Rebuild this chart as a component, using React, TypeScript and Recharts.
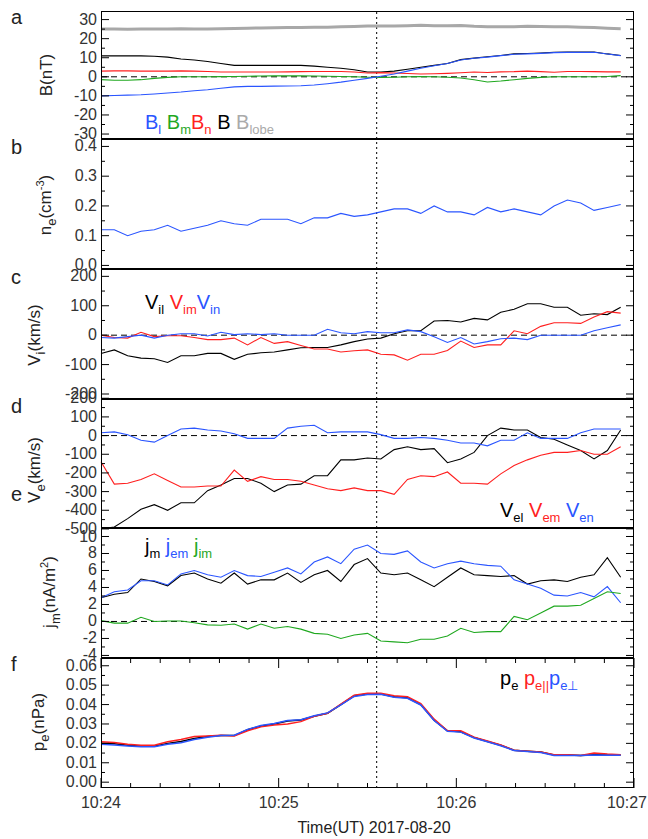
import React from 'react'
import { LineChart, Line, XAxis, YAxis, ReferenceLine } from 'recharts'

// time in seconds after 10:24:00, ~4.5 s cadence
const T = Array.from({ length: 40 }, (_, i) => i * 4.5)
const X_TICKS = [0, 10, 20, 30, 40, 50, 60, 70, 80, 90, 100, 110, 120, 130, 140, 150, 160, 170, 180]
const X_LABELS: Record<number, string> = { 0: '10:24', 60: '10:25', 120: '10:26', 180: '10:27' }
const T_MARK = 93.1

const bl = [-10, -9.8, -9.6, -9.4, -9, -8.5, -8, -7.3, -6.8, -6, -5.3, -5, -5, -4.9, -4.8, -4.7, -4.3, -3.6, -2.8, -1.8, -0.8, 0.3, 1.5, 3, 4.5, 5.8, 7, 8.8, 9.7, 10.3, 11.1, 11.8, 12, 12.3, 12.7, 12.8, 12.8, 12.9, 12, 11.1]
const bm = [-1.5, -1.8, -1.8, -1.5, -0.8, -0.3, 0, 0, 0, 0.1, 0.2, 0.3, 0.4, 0.5, 0.5, 0.5, 0.4, 0.3, 0.2, 0, -0.2, -0.3, -0.2, 0, 0.1, 0, -0.2, -0.6, -1.5, -2.7, -2.2, -1.5, -0.8, -0.3, 0, 0, 0, 0, 0.2, 0.6]
const bn = [3, 3.1, 3.1, 3, 3, 3, 3.1, 3, 2.8, 2.5, 2.5, 2.5, 2.5, 2.5, 2.6, 2.7, 2.8, 2.8, 2.8, 2.5, 2, 2.2, 2, 1.7, 1.5, 1.6, 1.8, 2.1, 2.5, 2.3, 2.6, 2.7, 3, 2.7, 2.4, 2.8, 2.8, 2.7, 2.6, 2.6]
const bt = [11, 11, 11, 11, 10.8, 10.3, 9.3, 8.8, 8, 7, 6, 6, 6, 6, 6, 6, 5.6, 5, 4.5, 3.7, 2.5, 2.5, 3, 4, 5, 6, 7, 9, 9.8, 10.5, 11.2, 12, 12.2, 12.5, 12.8, 13, 13, 13, 12, 11.2]
const blobe = [25, 25.1, 24.9, 25, 25, 25.1, 25.2, 25.1, 25, 25.2, 25.3, 25.5, 25.6, 25.7, 25.8, 25.9, 26, 26, 26.2, 26.4, 26.6, 26.6, 26.6, 26.8, 27, 26.8, 26.8, 26.9, 26.5, 26.3, 26.2, 26.3, 26.5, 26.4, 26.3, 26.2, 26, 25.8, 25.5, 25.2]

const ne = [0.12, 0.12, 0.10, 0.115, 0.12, 0.135, 0.115, 0.125, 0.135, 0.15, 0.14, 0.135, 0.155, 0.155, 0.155, 0.14, 0.16, 0.16, 0.175, 0.165, 0.17, 0.18, 0.19, 0.19, 0.175, 0.2, 0.18, 0.18, 0.17, 0.195, 0.18, 0.19, 0.18, 0.17, 0.2, 0.22, 0.21, 0.185, 0.195, 0.205]

const vil = [-62, -50, -70, -78, -80, -93, -70, -70, -62, -62, -82, -65, -60, -57, -50, -43, -42, -42, -33, -22, -13, -10, 5, 15, 15, 48, 50, 45, 57, 52, 78, 88, 107, 107, 95, 95, 68, 73, 70, 95]
const vim = [0, -8, -10, 10, -5, -2, -2, -8, -15, -15, -10, -33, -8, -28, -22, -35, -47, -47, -57, -53, -50, -65, -67, -85, -65, -65, -52, -20, -42, -33, -33, 15, 5, 30, 42, 42, 40, 62, 80, 75]
const vin = [-8, -10, -5, 0, -10, 0, 5, 5, -3, 10, 2, 5, 2, 5, 0, 0, 0, 20, 8, 5, 12, 8, 8, 18, 12, -5, -25, -8, -30, -22, -12, -10, -15, 0, 0, 0, 0, 15, 25, 35]

const vel = [-500, -490, -445, -395, -370, -400, -360, -360, -295, -265, -230, -230, -255, -300, -265, -260, -215, -215, -130, -130, -120, -125, -75, -60, -75, -70, -145, -125, -90, 0, 40, 30, 30, -10, -20, -50, -80, -125, -80, 30]
const vem = [-140, -260, -255, -235, -205, -240, -275, -275, -270, -270, -185, -245, -220, -235, -235, -245, -265, -285, -295, -280, -295, -295, -315, -235, -215, -220, -195, -255, -255, -260, -205, -160, -130, -105, -90, -90, -80, -100, -100, -60]
const ven = [15, 20, 5, -25, -35, 0, 35, 40, 30, 25, 10, -15, -15, -15, 40, 50, 55, 15, 20, 20, 20, 5, -15, -15, -10, -15, -25, -40, -40, -55, -25, -25, 15, -15, -15, -15, 15, 35, 35, 35]

const jm = [2.8, 3.2, 3.4, 5.0, 4.7, 4.2, 5.4, 5.7, 5.0, 4.5, 5.7, 4.4, 4.9, 4.9, 5.7, 4.6, 5.5, 6.0, 4.7, 6.7, 7.4, 5.7, 5.5, 5.7, 4.9, 4.1, 5.2, 6.3, 5.5, 5.4, 5.3, 5.4, 4.4, 4.8, 4.9, 4.7, 5.2, 5.5, 7.5, 5.2]
const jem = [2.8, 3.5, 3.7, 4.8, 4.8, 4.3, 5.6, 6.0, 5.5, 5.2, 6.0, 5.4, 5.3, 5.8, 6.3, 5.6, 7.0, 7.6, 6.8, 8.5, 9.0, 8.0, 7.9, 8.3, 7.0, 6.3, 6.8, 7.1, 6.8, 6.6, 6.5, 4.9, 4.4, 3.9, 3.1, 3.0, 3.4, 2.9, 4.1, 2.2]
const jim = [0.1, -0.2, -0.2, 0.5, 0, 0.05, 0.05, -0.15, -0.4, -0.45, -0.3, -0.9, -0.3, -0.8, -0.6, -0.9, -1.4, -1.5, -2.0, -1.6, -1.4, -2.3, -2.4, -2.5, -2.1, -2.1, -1.7, -0.8, -1.3, -1.2, -1.2, 0.6, 0.2, 1.0, 1.8, 1.8, 1.9, 2.7, 3.5, 3.3]

const pe = [0.020, 0.0198, 0.019, 0.0185, 0.0185, 0.020, 0.021, 0.0225, 0.0235, 0.024, 0.024, 0.027, 0.029, 0.030, 0.0315, 0.032, 0.034, 0.0355, 0.040, 0.0445, 0.0455, 0.0455, 0.044, 0.0435, 0.040, 0.032, 0.0265, 0.026, 0.023, 0.021, 0.019, 0.0165, 0.016, 0.0155, 0.014, 0.014, 0.0138, 0.0142, 0.014, 0.014]
const pePar = [0.0208, 0.0205, 0.0195, 0.019, 0.019, 0.0208, 0.022, 0.0235, 0.0238, 0.0242, 0.0238, 0.0265, 0.0285, 0.0295, 0.030, 0.0312, 0.034, 0.0355, 0.0402, 0.0448, 0.0458, 0.0458, 0.0445, 0.044, 0.0405, 0.0325, 0.0265, 0.0265, 0.0232, 0.0212, 0.0192, 0.0165, 0.016, 0.0155, 0.0142, 0.0142, 0.0138, 0.015, 0.0145, 0.0142]
const pePerp = [0.0195, 0.0192, 0.0187, 0.0183, 0.0183, 0.0195, 0.0203, 0.022, 0.0232, 0.024, 0.0242, 0.0272, 0.0292, 0.0302, 0.0318, 0.0322, 0.0342, 0.0357, 0.0398, 0.0442, 0.0452, 0.0453, 0.0438, 0.0432, 0.0398, 0.0318, 0.0262, 0.0258, 0.0228, 0.0208, 0.0188, 0.0163, 0.0158, 0.0153, 0.0138, 0.0138, 0.0137, 0.014, 0.0139, 0.0139]

const BLUE = '#2a55ff'
const RED = '#ff1f1f'
const GREEN = '#1fa81f'
const FONT = '"Liberation Sans", Arial, sans-serif'
const L = 101
const R = 634
const W = 648

type S = { key: string; values: number[]; color: string; width?: number }

interface PanelProps {
  top: number
  height: number
  series: S[]
  domain: [number, number]
  major: number[]
  minor: number[]
  fmt?: (v: number) => string
  zero?: boolean
  last?: boolean
}

function Panel({ top, height, series, domain, major, minor, fmt = String, zero, last }: PanelProps) {
  const rows = T.map((t, i) => {
    const r: Record<string, number> = { t }
    series.forEach(s => { r[s.key] = s.values[i] })
    return r
  })
  const yTicks = [...major, ...minor].sort((a, b) => a - b)
  const yTick = (p: any) => {
    const isMajor = major.includes(p.payload.value)
    const len = isMajor ? 8 : 4
    return (
      <g>
        <line x1={L} x2={L + len} y1={p.y} y2={p.y} stroke="#000" />
        <line x1={R - len} x2={R} y1={p.y} y2={p.y} stroke="#000" />
        {isMajor && (
          <text x={L - 4} y={p.y} dy={5} textAnchor="end" fontSize={16} fill="#333" fontFamily={FONT}>
            {fmt(p.payload.value)}
          </text>
        )}
      </g>
    )
  }
  const xTick = (p: any) => {
    const v = p.payload.value
    const len = v % 60 === 0 ? 10 : 5
    const edge = v === 180
    return (
      <g>
        <line x1={p.x} x2={p.x} y1={0} y2={len} stroke="#000" />
        <line x1={p.x} x2={p.x} y1={height - len} y2={height} stroke="#000" />
        {last && X_LABELS[v] && (
          <text x={edge ? W - 1 : p.x} y={height + 20} textAnchor={edge ? 'end' : 'middle'}
            fontSize={16} fill="#333" fontFamily={FONT}>
            {X_LABELS[v]}
          </text>
        )}
      </g>
    )
  }
  return (
    <div style={{ position: 'absolute', left: 0, top }}>
      <LineChart width={W} height={height + (last ? 40 : 0)} data={rows}
        margin={{ top: 0, right: W - R, bottom: 0, left: 0 }}>
        <XAxis dataKey="t" type="number" domain={[0, 180]} ticks={X_TICKS} interval={0}
          height={last ? 40 : 0} axisLine={false} tickLine={false} tick={xTick} />
        <YAxis type="number" domain={domain} ticks={yTicks} interval={0} width={L}
          axisLine={false} tickLine={false} tick={yTick} allowDataOverflow />
        {zero && <ReferenceLine y={0} stroke="#000" strokeDasharray="6 4" />}
        <ReferenceLine x={T_MARK} stroke="#000" strokeDasharray="2 3" />
        {series.map(s => (
          <Line key={s.key} dataKey={s.key} stroke={s.color} strokeWidth={s.width ?? 1.1}
            dot={false} isAnimationActive={false} />
        ))}
      </LineChart>
      <div style={{ position: 'absolute', left: L, top: 0, width: R - L, height,
        border: '1.5px solid #000', boxSizing: 'border-box', pointerEvents: 'none' }} />
    </div>
  )
}

const txt: React.CSSProperties = { position: 'absolute', fontFamily: FONT, color: '#222', whiteSpace: 'nowrap', lineHeight: 1 }
const sub = (s: string) => <sub style={{ fontSize: 13, verticalAlign: -5 }}>{s}</sub>
const sup = (s: string) => <sup style={{ fontSize: 11, verticalAlign: 7 }}>{s}</sup>

function YLabel({ x, y, children }: { x: number; y: number; children: React.ReactNode }) {
  return (
    <div style={{ ...txt, fontSize: 17, left: x, top: y, transform: 'translate(-50%,-50%) rotate(-90deg)' }}>
      {children}
    </div>
  )
}

function Letter({ y, c }: { y: number; c: string }) {
  return <div style={{ ...txt, fontSize: 20, left: 11, top: y }}>{c}</div>
}

export default function App() {
  return (
    <div style={{ position: 'absolute', left: 0, top: 0, width: W, height: 839, background: '#fff' }}>
      <style>{'svg.recharts-surface { overflow: visible; }'}</style>
      <Panel top={11} height={128} domain={[-32.6, 34.5]} major={[-30, -20, -10, 0, 10, 20, 30]}
        minor={[-25, -15, -5, 5, 15, 25]} zero
        series={[
          { key: 'blobe', values: blobe, color: '#a8a8a8', width: 3 },
          { key: 'bt', values: bt, color: '#000' },
          { key: 'bn', values: bn, color: RED },
          { key: 'bm', values: bm, color: GREEN },
          { key: 'bl', values: bl, color: BLUE },
        ]} />
      <Panel top={139} height={130} domain={[-0.012, 0.425]} major={[0, 0.1, 0.2, 0.3, 0.4]}
        minor={[0.05, 0.15, 0.25, 0.35]} fmt={v => v.toFixed(1)}
        series={[{ key: 'ne', values: ne, color: BLUE }]} />
      <Panel top={269} height={130} domain={[-217, 225]} major={[-200, -100, 0, 100, 200]}
        minor={[-150, -50, 50, 150]} zero
        series={[
          { key: 'vil', values: vil, color: '#000' },
          { key: 'vim', values: vim, color: RED },
          { key: 'vin', values: vin, color: BLUE },
        ]} />
      <Panel top={399} height={129} domain={[-495, 196]} major={[-500, -400, -300, -200, -100, 0, 100, 200]}
        minor={[-450, -350, -250, -150, -50, 50, 150]} zero
        series={[
          { key: 'vel', values: vel, color: '#000' },
          { key: 'vem', values: vem, color: RED },
          { key: 'ven', values: ven, color: BLUE },
        ]} />
      <Panel top={528} height={130} domain={[-4.3, 11]} major={[-4, -2, 0, 2, 4, 6, 8, 10]}
        minor={[-3, -1, 1, 3, 5, 7, 9]} zero
        series={[
          { key: 'jm', values: jm, color: '#000' },
          { key: 'jem', values: jem, color: BLUE },
          { key: 'jim', values: jim, color: GREEN },
        ]} />
      <Panel top={658} height={130} domain={[-0.003, 0.064]} major={[0, 0.01, 0.02, 0.03, 0.04, 0.05, 0.06]}
        minor={[0.005, 0.015, 0.025, 0.035, 0.045, 0.055]} fmt={v => v.toFixed(2)} last
        series={[
          { key: 'pe', values: pe, color: '#000', width: 1.5 },
          { key: 'pePar', values: pePar, color: RED, width: 1.5 },
          { key: 'pePerp', values: pePerp, color: BLUE, width: 1.5 },
        ]} />

      <div style={{ ...txt, fontSize: 16, left: 0, width: W, textAlign: 'center', top: 820, paddingLeft: 100, boxSizing: 'border-box' }}>
        Time(UT) 2017-08-20
      </div>

      <Letter y={7} c="a" />
      <Letter y={137} c="b" />
      <Letter y={267} c="c" />
      <Letter y={396} c="d" />
      <Letter y={484} c="e" />
      <Letter y={654} c="f" />

      <YLabel x={46} y={75}>B(nT)</YLabel>
      <YLabel x={46} y={205}>n{sub('e')}(cm{sup('-3')})</YLabel>
      <YLabel x={36} y={335}>V{sub('i')}(km/s)</YLabel>
      <YLabel x={36} y={470}>V{sub('e')}(km/s)</YLabel>
      <YLabel x={50} y={592}>j{sub('m')}(nA/m{sup('2')})</YLabel>
      <YLabel x={40} y={722}>p{sub('e')}(nPa)</YLabel>

      <div style={{ ...txt, fontSize: 20, left: 145, top: 112 }}>
        <span style={{ color: BLUE }}>B{sub('l')}</span>{' '}
        <span style={{ color: GREEN }}>B{sub('m')}</span>
        <span style={{ color: RED }}>B{sub('n')}</span>{' '}
        <span style={{ color: '#000' }}>B</span>{' '}
        <span style={{ color: '#aaa' }}>B{sub('lobe')}</span>
      </div>
      <div style={{ ...txt, fontSize: 20, left: 145, top: 292 }}>
        <span style={{ color: '#000' }}>V{sub('il')}</span>{' '}
        <span style={{ color: RED }}>V{sub('im')}</span>
        <span style={{ color: BLUE }}>V{sub('in')}</span>
      </div>
      <div style={{ ...txt, fontSize: 20, left: 500, top: 500 }}>
        <span style={{ color: '#000' }}>V{sub('el')}</span>{' '}
        <span style={{ color: RED }}>V{sub('em')}</span>{' '}
        <span style={{ color: BLUE }}>V{sub('en')}</span>
      </div>
      <div style={{ ...txt, fontSize: 20, left: 145, top: 536 }}>
        <span style={{ color: '#000' }}>j{sub('m')}</span>{' '}
        <span style={{ color: BLUE }}>j{sub('em')}</span>{' '}
        <span style={{ color: GREEN }}>j{sub('im')}</span>
      </div>
      <div style={{ ...txt, fontSize: 20, left: 500, top: 668 }}>
        <span style={{ color: '#000' }}>p{sub('e')}</span>{' '}
        <span style={{ color: RED }}>p{sub('e||')}</span>
        <span style={{ color: BLUE }}>p{sub('e⊥')}</span>
      </div>
    </div>
  )
}
